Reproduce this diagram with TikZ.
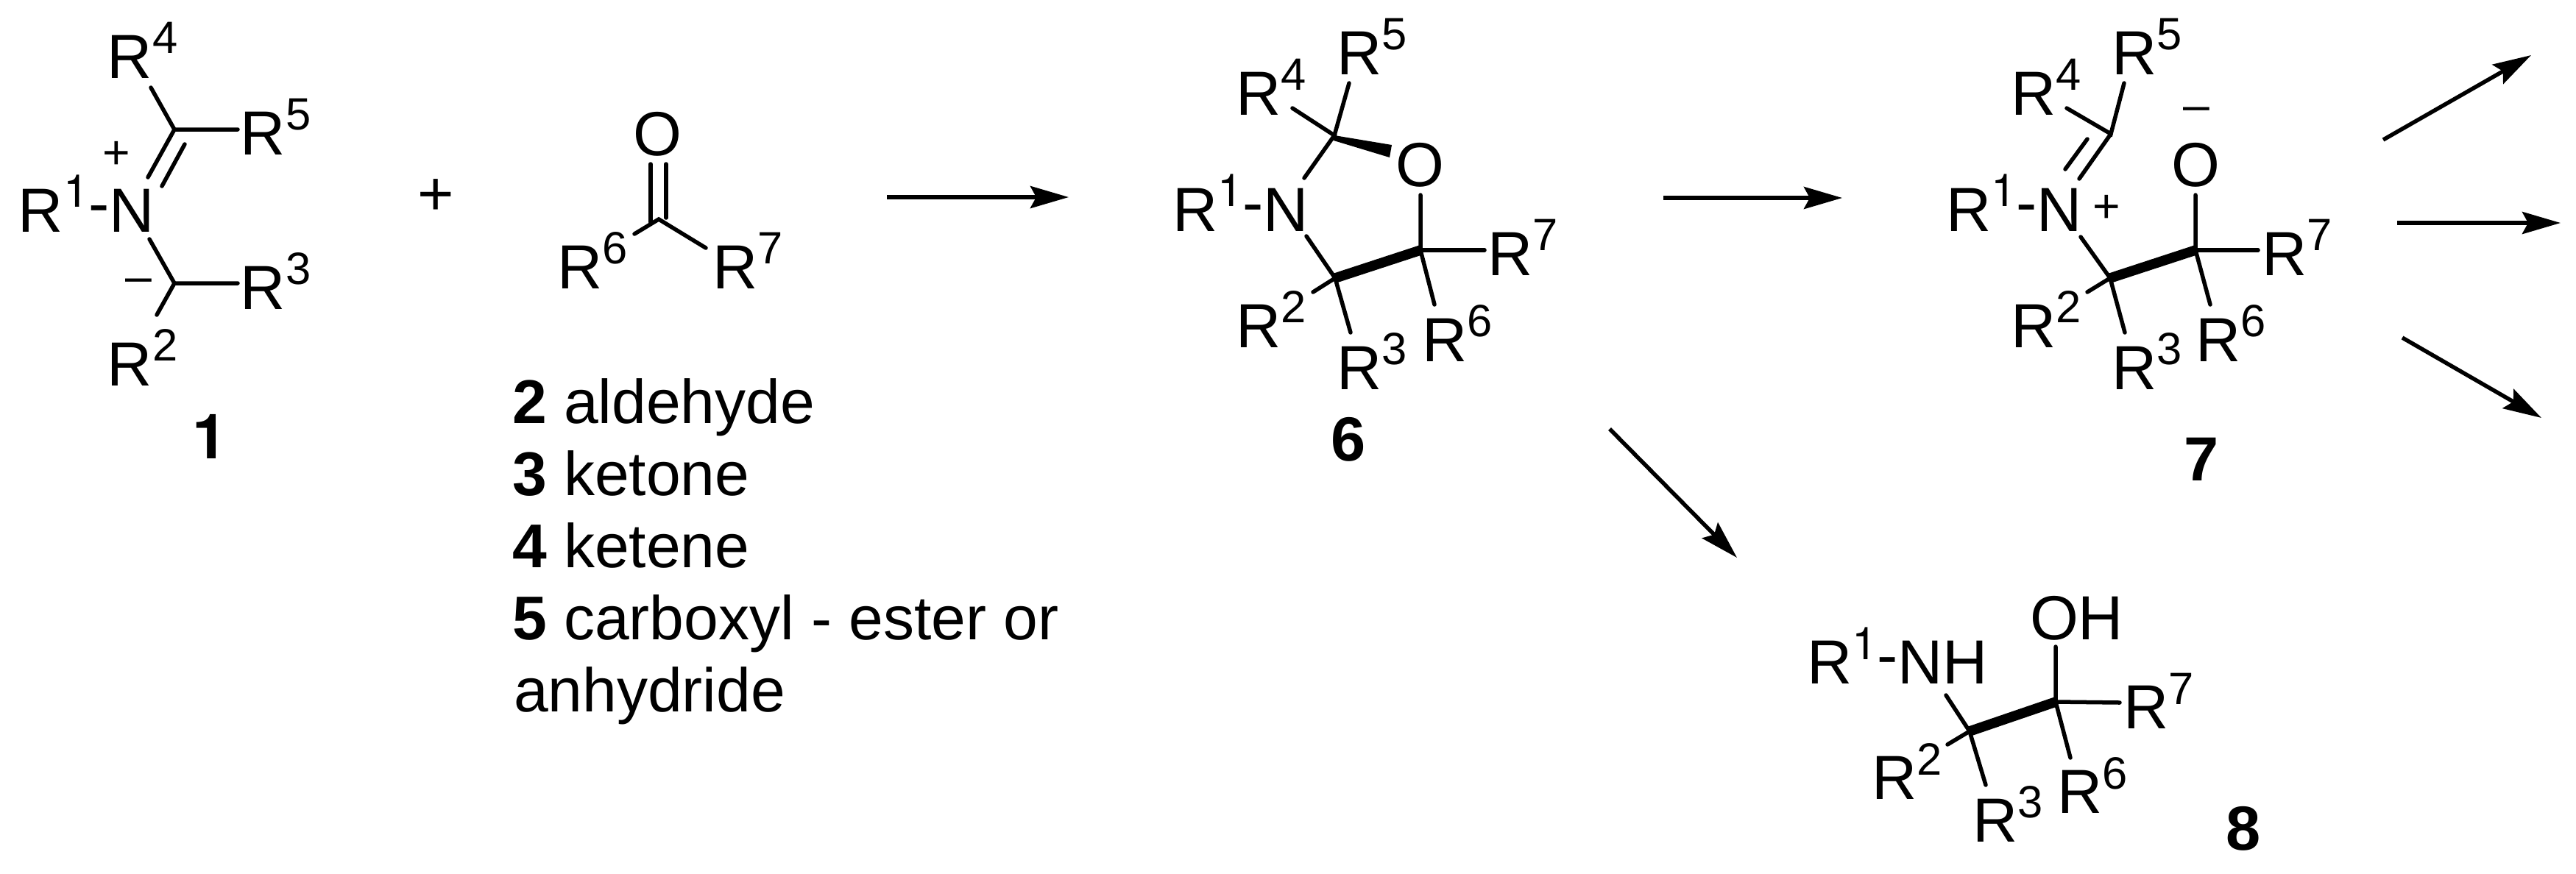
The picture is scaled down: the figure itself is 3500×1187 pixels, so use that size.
\documentclass[tikz,border=0pt]{standalone}
\usepackage{fontspec}
\setmainfont{Liberation Sans}
\newfontfamily\heros{TeX Gyre Heros}
\usetikzlibrary{arrows.meta}

% R group with a raised number
\newcommand{\subfont}{\fontsize{17.5pt}{17.5pt}\selectfont}
\newcommand{\rgrp}[1]{R\raisebox{0.33cm}{\subfont #1}}
\newcommand{\rone}{R\raisebox{0.33cm}{\subfont\heros 1}\raisebox{0.1cm}{-}}

\tikzset{
    atom/.style={anchor=base west, xshift=-0.07cm, yshift=-0.01cm, inner sep=0pt, outer sep=0pt, font=\fontsize{24.1pt}{28pt}\selectfont},
    oxygen/.style={anchor=base, inner sep=0pt, outer sep=0pt, font=\fontsize{24.1pt}{28pt}\selectfont},
    listitem/.style={anchor=base west, xshift=-0.03cm, inner sep=0pt, outer sep=0pt, font=\fontsize{23.9pt}{28pt}\selectfont},
    charge/.style={anchor=center, inner sep=0pt, outer sep=0pt, font=\fontsize{18.3pt}{18.3pt}\selectfont},
    compound/.style={anchor=base, inner sep=0pt, outer sep=0pt, font=\fontsize{24.1pt}{28pt}\selectfont\bfseries},
    bond/.style={line width=0.055cm, line cap=round},
    boldbond/.style={line width=0.135cm},
    rxn/.style={line width=0.055cm, -{Stealth[length=0.52cm, width=0.3cm, inset=0.08cm]}}
}

\begin{document}
\begin{tikzpicture}[x=0.01cm, y=-0.01cm]
    \useasboundingbox (0,0) rectangle (3500,1187);

    % Iminium ylide 1
    \node[atom] (a4) at (153,105) {\rgrp{4}};
    \node[atom] (a5) at (334,209) {\rgrp{5}};
    \node[atom] (a1) at (32,314) {\rone N};
    \node[atom] (a3) at (334,419) {\rgrp{3}};
    \node[atom] (a2) at (153,523) {\rgrp{2}};
    \node[charge] (aplus) at (158,211) {+};
    \node[charge] (aminus) at (188,388) {\textendash};
    \node[compound] (one) at (285,623) {\heros 1};
    \foreach \name/\x/\y in {ac/237/176, ad/237/385, ae/205/119, af/323/176, ag/201/241,
        ah/251/196, ai/220/253, aj/203/325, ak/323/385, al/213/428} {
        \coordinate (\name) at (\x,\y);
    }
    \draw[bond] (ae) -- (ac) -- (af);
    \draw[bond] (ac) -- (ag);
    \draw[bond] (ah) -- (ai);
    \draw[bond] (aj) -- (ad) -- (ak);
    \draw[bond] (ad) -- (al);

    \node[atom, anchor=center, xshift=0.07cm] (plus) at (592,267) {+};

    % Carbonyl partner
    \node[oxygen] (bo) at (893,211) {O};
    \node[atom] (b6) at (764,391) {\rgrp{6}};
    \node[atom] (b7) at (975,391) {\rgrp{7}};
    \foreach \name/\x/\y in {bc/895/298, bd/862/318, be/959/337, bf/884/223, bg/884/302,
        bh/905/223, bi/905/296} {
        \coordinate (\name) at (\x,\y);
    }
    \draw[bond] (bd) -- (bc) -- (be);
    \draw[bond] (bf) -- (bg);
    \draw[bond] (bh) -- (bi);

    \foreach \n/\t/\y in {2/aldehyde/575, 3/ketone/673, 4/ketene/771, 5/carboxyl - ester or/869} {
        \node[listitem] (item\n) at (699,\y) {\textbf{\n} \t};
    }
    \node[listitem] (item5b) at (701,967) {anhydride};

    \coordinate (s1) at (1205,268);
    \coordinate (t1) at (1452,268);
    \draw[rxn] (s1) -- (t1);

    % Oxazolidine 6
    \node[atom] (c5) at (1823,100) {\rgrp{5}};
    \node[atom] (c4) at (1686,155) {\rgrp{4}};
    \node[atom] (c1) at (1600,313) {\rone N};
    \node[oxygen] (co) at (1929,253) {O};
    \node[atom] (c7) at (2028,373) {\rgrp{7}};
    \node[atom] (c2) at (1686,471) {\rgrp{2}};
    \node[atom] (c6) at (1939,490) {\rgrp{6}};
    \node[atom] (c3) at (1823,528) {\rgrp{3}};
    \node[compound] (six) at (1832,626) {6};
    \foreach \name/\x/\y in {ca/1813/184, cb/1814/378, cc/1930/340, cd/1833/113, ce/1756/147,
        cf/1772/242, cg/1775/321, ch/1784/397, ci/1835/452, cj/1930/265, ck/1949/414,
        cl/2017/340, cm/1891/197, cn/1888/214, cp/1812/191} {
        \coordinate (\name) at (\x,\y);
    }
    \draw[bond] (cd) -- (ca);
    \draw[bond] (ce) -- (ca) -- (cf);
    \draw[bond] (cg) -- (cb);
    \draw[bond] (ch) -- (cb) -- (ci);
    \draw[bond] (cj) -- (cc) -- (ck);
    \draw[bond] (cc) -- (cl);
    \fill (ca) -- (cm) -- (cn) -- (cp) -- cycle;
    \draw[boldbond] (cb) -- (cc);

    \coordinate (s2) at (2260,269);
    \coordinate (t2) at (2503,269);
    \draw[rxn] (s2) -- (t2);
    \coordinate (s3) at (2187,583);
    \coordinate (t3) at (2360,758);
    \draw[rxn] (s3) -- (t3);

    % Betaine 7
    \node[atom] (d5) at (2876,100) {\rgrp{5}};
    \node[atom] (d4) at (2739,155) {\rgrp{4}};
    \node[atom] (d1) at (2651,313) {\rone N};
    \node[oxygen] (do) at (2983,253) {O};
    \node[charge] (dplus) at (2862,284) {+};
    \node[charge] (dminus) at (2984,155) {\textendash};
    \node[atom] (d7) at (3080,373) {\rgrp{7}};
    \node[atom] (d2) at (2739,471) {\rgrp{2}};
    \node[atom] (d6) at (2990,490) {\rgrp{6}};
    \node[atom] (d3) at (2876,528) {\rgrp{3}};
    \node[compound] (seven) at (2991,653) {7};
    \foreach \name/\x/\y in {da/2868/182, db/2867/378, dc/2983/340, dd/2886/113, de/2808/147,
        df/2825/243, dg/2836/189, dh/2806/230, di/2827/322, dj/2836/397, dk/2887/452,
        dl/2983/265, dm/3003/414, dn/3068/340} {
        \coordinate (\name) at (\x,\y);
    }
    \draw[bond] (dd) -- (da) -- (de);
    \draw[bond] (da) -- (df);
    \draw[bond] (dg) -- (dh);
    \draw[bond] (di) -- (db);
    \draw[bond] (dj) -- (db) -- (dk);
    \draw[bond] (dl) -- (dc) -- (dm);
    \draw[bond] (dc) -- (dn);
    \draw[boldbond] (db) -- (dc);

    \foreach \n/\ax/\ay/\bx/\by in {4/3238/190/3439/75, 5/3257/303/3479/303, 6/3264/459/3453/568} {
        \coordinate (s\n) at (\ax,\ay);
        \coordinate (t\n) at (\bx,\by);
        \draw[rxn] (s\n) -- (t\n);
    }

    % Amino alcohol 8
    \node[atom] (e1) at (2462,928) {\rone NH};
    \node[atom] (eoh) at (2765,868) {OH};
    \node[atom] (e7) at (2892,989) {\rgrp{7}};
    \node[atom] (e2) at (2550,1085) {\rgrp{2}};
    \node[atom] (e6) at (2802,1104) {\rgrp{6}};
    \node[atom] (e3) at (2687,1143) {\rgrp{3}};
    \node[compound] (eight) at (3048,1155) {8};
    \foreach \name/\x/\y in {ea/2676/994, eb/2793/954, ec/2644/945, ed/2646/1012, ee/2698/1067,
        ef/2793/879, eg/2880/955, eh/2813/1030} {
        \coordinate (\name) at (\x,\y);
    }
    \draw[bond] (ec) -- (ea);
    \draw[bond] (ed) -- (ea) -- (ee);
    \draw[bond] (ef) -- (eb) -- (eg);
    \draw[bond] (eb) -- (eh);
    \draw[boldbond] (ea) -- (eb);
\end{tikzpicture}
\end{document}
